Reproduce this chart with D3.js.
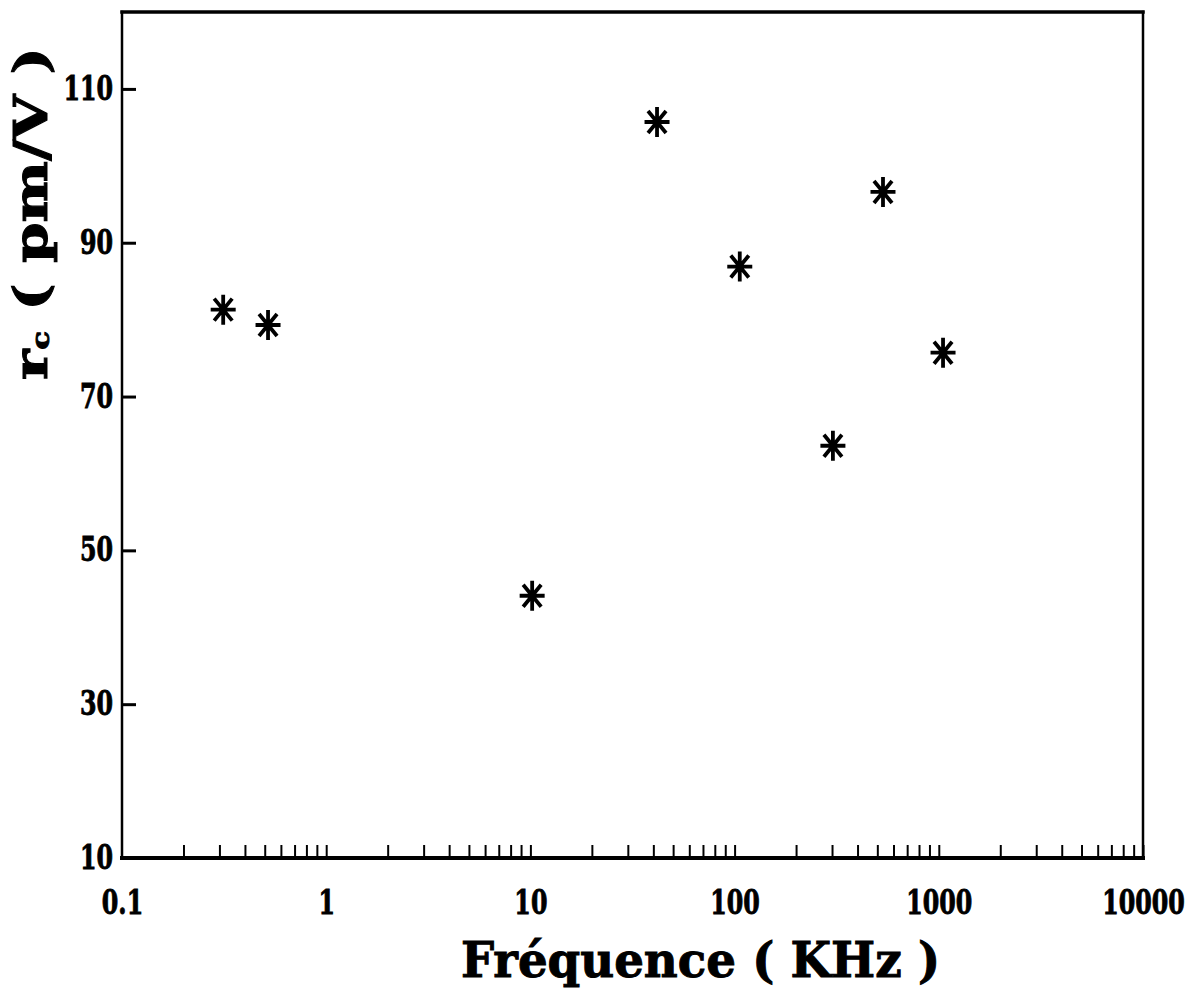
<!DOCTYPE html>
<html>
<head>
<meta charset="utf-8">
<script src="https://cdn.jsdelivr.net/npm/d3@7"></script>
<style>
  html, body { margin: 0; padding: 0; background: #fff; }
  svg { display: block; }
  text { font-family: "DejaVu Serif", "Liberation Serif", serif; font-weight: bold; fill: #000; }
</style>
</head>
<body>
<script>
// ---- data ----
const freqKHz = [0.313, 0.519, 10.2, 41.7, 106, 303, 533, 1049];
const rcValues = [81.3, 79.3, 44.1, 105.7, 86.9, 63.6, 96.6, 75.7];
const xMajorTicks = [0.1, 1, 10, 100, 1000, 10000];
const xTickLabels = ["0.1", "1", "10", "100", "1000", "10000"];
const yTicks = [10, 30, 50, 70, 90, 110];
const yTickLabels = ["10", "30", "50", "70", "90", "110"];
const xTitle = "Fréquence ( KHz )";

// ---- layout ----
const W = 1197, H = 991;
const mLeft = 122, mRight = 1143, mTop = 12, mBottom = 858;

const svg = d3.select("body").append("svg").attr("width", W).attr("height", H);

const x = d3.scaleLog().domain([0.1, 10000]).range([mLeft, mRight]);
const y = d3.scaleLinear().domain([10, 120]).range([mBottom, mTop]);

// minor + major tick positions for the log axis
const xMinor = [];
[0.1, 1, 10, 100, 1000].forEach(d => {
  for (let k = 1; k <= 9; k++) { const v = k * d; if (v > 0.1) xMinor.push(v); }
});
xMinor.push(10000);

// bottom ticks (inward)
const gxTicks = svg.append("g").attr("transform", `translate(0,${mBottom})`)
  .call(d3.axisBottom(x).tickValues(xMinor).tickSize(-13).tickSizeOuter(0).tickFormat(""));
gxTicks.select(".domain").remove();
gxTicks.selectAll("line").attr("stroke", "#000").attr("stroke-width", 2);

// bottom labels
const gxLab = svg.append("g").attr("transform", `translate(0,${mBottom})`)
  .call(d3.axisBottom(x).tickValues(xMajorTicks).tickSize(0).tickPadding(33)
    .tickFormat((d, i) => xTickLabels[i]));
gxLab.select(".domain").remove();
gxLab.selectAll("text")
  .attr("font-size", 33).attr("font-family", "DejaVu Serif").attr("font-weight", "bold")
  .attr("fill", "#000").attr("stroke", "#000").attr("stroke-width", 0.9)
  .attr("transform", "scale(0.72,1)");

// left ticks (inward) + labels
const gy = svg.append("g").attr("transform", `translate(${mLeft},0)`)
  .call(d3.axisLeft(y).tickValues(yTicks).tickSize(-14).tickSizeOuter(0)
    .tickFormat((d, i) => yTickLabels[i]));
gy.select(".domain").remove();
gy.selectAll("line").attr("stroke", "#000").attr("stroke-width", 3);
gy.selectAll("text")
  .attr("font-size", 33).attr("font-family", "DejaVu Serif").attr("font-weight", "bold")
  .attr("fill", "#000").attr("stroke", "#000").attr("stroke-width", 0.9)
  .attr("x", -9 / 0.72).attr("transform", "scale(0.72,1)");

// frame
const frame = svg.append("g").attr("stroke", "#000").attr("fill", "none").attr("stroke-linecap", "square");
frame.append("line").attr("x1", mLeft).attr("x2", mRight).attr("y1", mTop).attr("y2", mTop).attr("stroke-width", 3.5);
frame.append("line").attr("x1", mRight).attr("x2", mRight).attr("y1", mTop).attr("y2", mBottom).attr("stroke-width", 2.5);
frame.append("line").attr("x1", mLeft).attr("x2", mLeft).attr("y1", mTop).attr("y2", mBottom).attr("stroke-width", 2.5);
frame.append("line").attr("x1", mLeft).attr("x2", mRight).attr("y1", mBottom).attr("y2", mBottom).attr("stroke-width", 4);

// asterisk markers (8 arms)
function asterisk(cx, cy) {
  const p = d3.path();
  p.moveTo(cx - 12.5, cy); p.lineTo(cx + 12.5, cy);
  p.moveTo(cx, cy - 15); p.lineTo(cx, cy + 15);
  p.moveTo(cx - 9, cy - 11); p.lineTo(cx + 9, cy + 11);
  p.moveTo(cx - 9, cy + 11); p.lineTo(cx + 9, cy - 11);
  return p.toString();
}
const pts = freqKHz.map((f, i) => ({ f, r: rcValues[i] }));
svg.append("g").selectAll("path").data(pts).join("path")
  .attr("d", d => asterisk(x(d.f), y(d.r)))
  .attr("stroke", "#000").attr("stroke-width", 3.8).attr("fill", "none");

// x title
svg.append("text")
  .attr("x", 461).attr("y", 977)
  .attr("font-size", 48)
  .attr("stroke", "#000").attr("stroke-width", 1)
  .attr("textLength", 479).attr("lengthAdjust", "spacingAndGlyphs")
  .text(xTitle);

// y title (rotated)
const yt = svg.append("text")
  .attr("transform", "translate(47,380) rotate(-90)")
  .attr("font-size", 46)
  .attr("stroke", "#000").attr("stroke-width", 1)
  .attr("textLength", 333).attr("lengthAdjust", "spacingAndGlyphs");
yt.append("tspan").text("r");
yt.append("tspan").attr("font-size", 24).attr("dy", 2).text("c");
yt.append("tspan").attr("dy", -2).text("  ( pm/V )");
</script>
</body>
</html>
